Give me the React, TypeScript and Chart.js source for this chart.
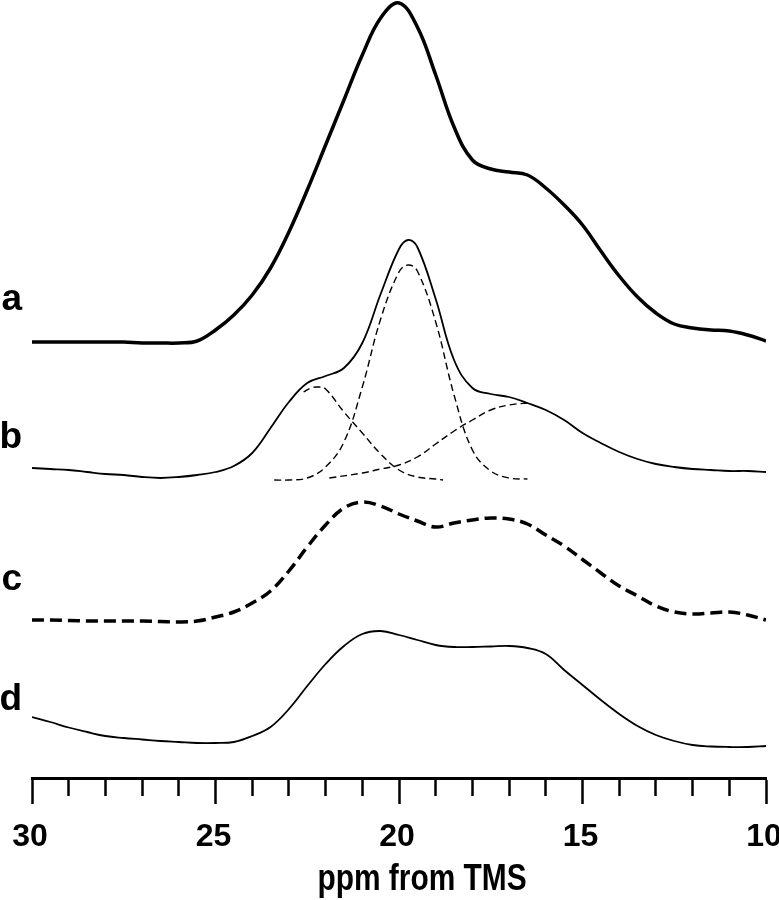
import React, { useEffect, useRef } from 'react';
import { Chart, registerables } from 'chart.js';

Chart.register(...registerables);

// chemical shift grid (ppm), high to low
const gridPpm = [30, 29.5, 29, 28.5, 28, 27.5, 27, 26.5, 26, 25.5, 25, 24.5, 24, 23.5, 23, 22.5, 22, 21.5, 21, 20.5, 20, 19.5, 19, 18.5, 18, 17.5, 17, 16.5, 16, 15.5, 15, 14.5, 14, 13.5, 13, 12.5, 12, 11.5, 11, 10.5, 10];

// spectrum a (offset intensity)
const spectrumA = [436, 436, 436, 436, 436, 436, 435, 435, 435, 437, 448, 463, 483, 510, 546, 588, 633, 678, 723, 760, 775, 751, 703, 651, 618, 609, 606, 603, 590, 573, 553, 527, 502, 481, 465, 454, 450, 448, 447, 443, 437];

// spectrum b
const ppmB = [30, 29.5, 29, 28.5, 28, 27.5, 27, 26.5, 26, 25.5, 25, 24.5, 24, 23.5, 23, 22.5, 22, 21.5, 21, 20.5, 20, 19.75, 19.5, 19, 18.5, 18, 17.5, 17, 16.5, 16, 15.5, 15, 14.5, 14, 13.5, 13, 12.5, 12, 11.5, 11, 10.5, 10];
const spectrumB = [310, 309, 308, 306, 304, 303, 301, 300, 301, 303, 306, 312, 325, 350, 376, 395, 402, 410, 435, 484, 529, 538, 531, 479, 418, 390, 384, 381, 375, 368, 358, 345, 335, 326, 319, 314, 311, 309, 308, 307, 307, 306];

// deconvoluted components of b
const ppmPeak1 = [22.6, 22.4, 22.2, 22, 21.5, 21, 20.5, 20, 19.5, 19, 18.8];
const peak1 = [386, 390, 391, 389, 366, 345, 324, 308, 301, 299, 298];
const ppmPeak2 = [23.4, 23, 22.5, 22, 21.5, 21, 20.5, 20, 19.75, 19.5, 19, 18.5, 18, 17.5, 17, 16.5];
const peak2 = [298, 298, 300, 311, 336, 391, 459, 506, 513, 507, 456, 383, 328, 307, 300, 299];
const ppmPeak3 = [21.9, 21, 20.5, 20, 19.5, 19, 18.5, 18, 17.5, 17, 16.5];
const peak3 = [300, 305, 309, 313, 321, 334, 347, 358, 368, 373, 375];

// spectrum c
const spectrumC = [158, 158, 157.5, 157, 157, 157, 157, 156.5, 156, 157, 161, 166, 175, 187, 207, 231, 253, 270, 276, 272, 264, 257, 251, 255, 258, 260, 259, 254, 243, 232, 218.5, 205, 192, 182, 172, 166, 164, 165, 166, 163, 158];

// spectrum d
const spectrumD = [61, 56, 50.5, 46, 42, 40, 38.5, 37, 36, 35, 35, 36, 42, 51, 69, 92, 114, 132, 144, 147, 143, 138, 133, 131, 131, 131.5, 132, 130, 124, 108, 93, 78, 64, 52, 43, 37, 33, 31.5, 31, 31, 32];

// curve labels and the level they sit at
const curveLabels = ['a', 'b', 'c', 'd'];
const labelLevels = [478, 340, 198, 78];

const AXIS_TITLE = 'ppm from TMS';
const X_MIN = 10;
const X_MAX = 30;
const Y_MAX = 778;

const FONT = "'Liberation Sans', Arial, Helvetica, sans-serif";

const toPoints = (xs: number[], ys: number[]) => xs.map((x, i) => ({ x, y: ys[i] }));

export default function App() {
  const ref = useRef<HTMLCanvasElement>(null);

  useEffect(() => {
    if (!ref.current) return;

    const captionPlugin = {
      id: 'axisCaption',
      afterDraw(chart: any) {
        const { ctx } = chart;
        const xs = chart.scales.x;
        const cx = (xs.left + xs.right) / 2 + 23;
        ctx.save();
        ctx.font = `bold 36px ${FONT}`;
        ctx.fillStyle = '#000';
        ctx.textAlign = 'center';
        ctx.textBaseline = 'alphabetic';
        ctx.translate(cx, xs.bottom - 10);
        ctx.scale(0.83, 1);
        ctx.fillText(AXIS_TITLE, 0, 0);
        ctx.restore();
      },
    };

    const common = {
      borderColor: '#000',
      pointRadius: 0,
      fill: false,
      tension: 0.4,
    };

    const chart = new Chart(ref.current, {
      type: 'line',
      data: {
        datasets: [
          { ...common, label: 'b1', data: toPoints(ppmPeak1, peak1), borderWidth: 1.4, borderDash: [7, 4] },
          { ...common, label: 'b2', data: toPoints(ppmPeak2, peak2), borderWidth: 1.4, borderDash: [7, 4] },
          { ...common, label: 'b3', data: toPoints(ppmPeak3, peak3), borderWidth: 1.4, borderDash: [7, 4] },
          { ...common, label: 'a', data: toPoints(gridPpm, spectrumA), borderWidth: 3.5 },
          { ...common, label: 'b', data: toPoints(ppmB, spectrumB), borderWidth: 1.8 },
          { ...common, label: 'c', data: toPoints(gridPpm, spectrumC), borderWidth: 3.5, borderDash: [12, 6] },
          { ...common, label: 'd', data: toPoints(gridPpm, spectrumD), borderWidth: 1.8 },
        ],
      },
      options: {
        responsive: false,
        animation: false,
        events: [],
        layout: { padding: { left: 0, right: 13, top: 0, bottom: 0 } },
        plugins: {
          legend: { display: false },
          tooltip: { enabled: false },
          title: { display: false },
        },
        scales: {
          x: {
            type: 'linear',
            position: 'bottom',
            reverse: true,
            min: X_MIN,
            max: X_MAX,
            border: { display: true, width: 3, color: '#000' },
            grid: {
              display: true,
              drawOnChartArea: false,
              drawTicks: true,
              tickLength: 26,
              tickWidth: 2.5,
              tickColor: '#000',
              tickBorderDash: (ctx: any) => (ctx.tick && ctx.tick.value % 5 === 0 ? [] : [16, 40]),
            },
            ticks: {
              stepSize: 1,
              autoSkip: false,
              maxRotation: 0,
              padding: 14,
              labelOffset: -2,
              color: '#000',
              font: { family: FONT, size: 32, weight: 'bold' },
              callback: (v: any) => (Number(v) % 5 === 0 ? String(v) : ''),
            },
            afterFit: (s: any) => {
              s.height = 122;
              s.paddingLeft = 0;
              s.paddingRight = 0;
            },
          },
          y: {
            type: 'linear',
            position: 'left',
            min: 0,
            max: Y_MAX,
            border: { display: false },
            grid: { display: false },
            afterBuildTicks: (s: any) => {
              s.ticks = labelLevels.map((v) => ({ value: v }));
            },
            ticks: {
              padding: 2,
              color: '#000',
              font: { family: FONT, size: 37, weight: 'bold' },
              callback: (v: any) => {
                const i = labelLevels.indexOf(Number(v));
                return i >= 0 ? curveLabels[i] : '';
              },
            },
            afterFit: (s: any) => {
              s.width = 32;
              s.paddingTop = 0;
              s.paddingBottom = 0;
            },
          },
        },
      },
      plugins: [captionPlugin],
    });

    return () => chart.destroy();
  }, []);

  return (
    <div style={{ position: 'absolute', left: 0, top: 0, width: 779, height: 900, background: '#fff' }}>
      <canvas ref={ref} width={779} height={900} style={{ display: 'block' }} />
    </div>
  );
}
